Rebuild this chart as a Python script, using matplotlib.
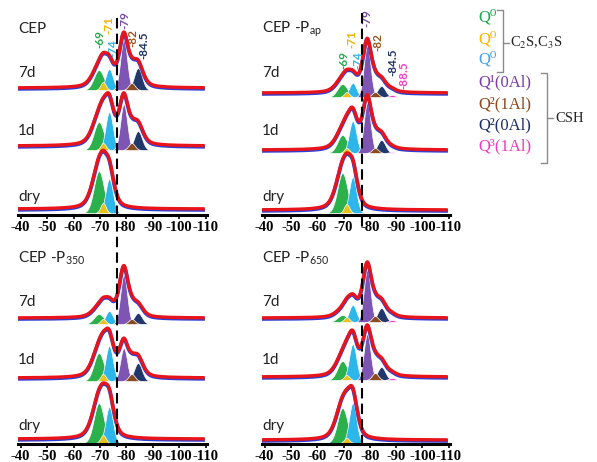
import matplotlib.pyplot as plt
import numpy as np
from matplotlib.lines import Line2D

plt.rcParams['mathtext.fontset'] = 'custom'
plt.rcParams['mathtext.rm'] = 'Lato'

W, H = 597, 462

# deconvolution components: Q0 (x3), Q1(0Al), Q2(1Al), Q2(0Al), Q3(1Al)
comp_colors = ['#2bb04c', '#e7c21c', '#2cb6ea', '#7e55b2', '#8b4b1e', '#22386c', '#e447c6']
comp_centers = [-69.6, -71.2, -73.5, -79.0, -82.0, -84.4, -88.5]
comp_sigma = [1.9, 1.0, 1.4, 1.3, 1.2, 1.5, 1.2]

panel_titles = ['CEP', r'CEP -P$_{\mathrm{ap}}$', r'CEP -P$_{\mathrm{350}}$', r'CEP -P$_{\mathrm{650}}$']
ages = ['7d', '1d', 'dry']

# component heights per age (7d, 1d, dry)
cep_heights = [[20, 8, 21, 50, 7, 22, 0], [28, 7, 38, 46, 7, 19, 0], [42, 10, 34, 0, 0, 0, 0]]
pap_heights = [[13, 5, 14, 51, 5, 11, 2], [18, 5, 32, 50, 5, 13, 1], [40, 9, 36, 0, 0, 0, 0]]
p350_heights = [[10, 5, 13, 49, 5, 11, 0], [28, 7, 35, 33, 7, 18, 0], [40, 8, 36, 0, 0, 0, 0]]
p650_heights = [[7, 5, 17, 52, 6, 14, 2], [19, 5, 36, 46, 7, 13, 2], [35, 5, 40, 0, 0, 0, 0]]
all_heights = [cep_heights, pap_heights, p350_heights, p650_heights]

peak_labels = ['-69', '-71', '-74', '-79', '-82', '-84.5', '-88.5']
label_colors = ['#22a94a', '#f0b400', '#33b5e5', '#7a48a8', '#9a5520', '#1f3163', '#f03cc8']

xticks = [-40, -50, -60, -70, -80, -90, -100, -110]

legend_labels = ['Q\u2070', 'Q\u2070', 'Q\u2070', 'Q\u00b9(0Al)', 'Q\u00b2(1Al)', 'Q\u00b2(0Al)', 'Q\u00b3(1Al)']
legend_colors = ['#1aa64a', '#f5b400', '#4a9fe0', '#7a3ea6', '#8a4a1e', '#1e2f66', '#ea3cc0']

# layout (pixels)
col_left = [18, 262, 18, 262]
col_width = [189, 188, 189, 188]
axis_y = [215, 215, 444, 444]
AX_H = 205
XLIM = (-39, -110.5)
WIDEN = 1.3
ETA = 0.5
fill_base = [[125, 65, 2], [118, 62, 2], [120, 63, 1], [122, 64, 1]]
red_base = [[127, 69, 6], [122, 65, 5], [126, 66, 5], [126, 67, 4]]
age_y = [142, 84, 18]
label_pos = [
    [(-70.0, 176), (-73.4, 190), (-74.9, 167), (-79.6, 195), (-82.6, 177), (-86.8, 170), None],
    [(-70.2, 155), (-73.2, 176), (-75.5, 155), (-78.9, 197), (-83.1, 173), (-88.8, 153), (-93.0, 140)],
]


def gauss(x, c, h, s):
    return h * np.exp(-(x - c) ** 2 / (2 * s ** 2))


def pvoigt(x, c, h, s):
    gam = 1.1774 * s
    return h * (ETA * np.exp(-(x - c) ** 2 / (2 * s ** 2)) + (1 - ETA) / (1 + ((x - c) / gam) ** 2))


def fxy(x, y):
    return x / W, 1 - y / H


fig = plt.figure(figsize=(W / 100, H / 100), dpi=100)
x = np.linspace(-39.5, -109, 700)

for p in range(4):
    l, b = fxy(col_left[p], axis_y[p])
    ax = fig.add_axes([l, b, col_width[p] / W, AX_H / H])
    ax.set_xlim(*XLIM)
    ax.set_ylim(0, AX_H)
    for k in range(3):
        hs = all_heights[p][k]
        fb = fill_base[p][k]
        env = np.full_like(x, red_base[p][k], dtype=float)
        for i in range(7):
            env += pvoigt(x, comp_centers[i], hs[i], comp_sigma[i] * WIDEN)
        for i in [0, 2, 3, 5, 6, 4, 1]:
            if hs[i] <= 0:
                continue
            g = gauss(x, comp_centers[i], hs[i], comp_sigma[i])
            ax.fill_between(x, fb, fb + g, where=g > 0.2, color=comp_colors[i],
                            edgecolor='white', linewidth=0.5, zorder=2)
        ax.plot(x, env - 1.1, color='#2b3fd6', lw=2.7, zorder=3)
        ax.plot(x, env, color='#e8141c', lw=2.4, zorder=4)
        ax.text(0, age_y[k], ages[k], transform=ax.get_yaxis_transform(),
                ha='left', va='center', fontsize=11, family='Lato', color='#222222')
    ax.text(0, 186, panel_titles[p], transform=ax.get_yaxis_transform(),
            ha='left', va='center', fontsize=11, family='Lato', color='#222222')

    if p < 2:
        for i, pos in enumerate(label_pos[p]):
            if pos is None:
                continue
            ax.text(pos[0], pos[1], peak_labels[i], rotation=90, ha='center', va='center',
                    fontsize=8.5, fontweight='bold', family='Lato', color=label_colors[i])

    for side in ['left', 'right', 'top']:
        ax.spines[side].set_visible(False)
    ax.spines['bottom'].set_linewidth(2.2)
    ax.set_yticks([])
    ax.set_xticks(xticks)
    ax.set_xticklabels([str(t) for t in xticks])
    for t in ax.get_xticklabels():
        t.set_fontfamily('Liberation Serif')
        t.set_fontweight('bold')
        t.set_fontsize(10.5)
    ax.tick_params(axis='x', length=3, width=1.2, pad=1.5)
    ax.patch.set_alpha(0)

# dashed reference lines
for xs, segs in [(117, [(18, 447)]), (362, [(13, 228), (263, 447)])]:
    for y0, y1 in segs:
        (fx0, fy0), (fx1, fy1) = fxy(xs, y0), fxy(xs, y1)
        fig.add_artist(Line2D([fx0, fx1], [fy0, fy1], transform=fig.transFigure,
                              color='black', lw=1.5, dashes=(5, 2.5), zorder=10))

# legend on the right
legend_y = [18, 39, 60, 82, 104, 125, 146]
for lab, col, yy in zip(legend_labels, legend_colors, legend_y):
    fig.text(*fxy(478, yy), lab, color=col, fontsize=12,
             family=['Liberation Serif', 'DejaVu Serif'], ha='left', va='center')


def bracket(xv, y0, y1, ym, tx, label):
    pts = [[(xv - 6, y0), (xv, y0), (xv, y1), (xv - 6, y1)], [(xv, ym), (xv + 6, ym)]]
    for seg in pts:
        xs_, ys_ = zip(*[fxy(a, c) for a, c in seg])
        fig.add_artist(Line2D(xs_, ys_, transform=fig.transFigure, color='#8a8a8a', lw=1.0))
    fig.text(*fxy(tx, ym), label, color='#222222', fontsize=10.5, family='Liberation Serif',
             math_fontfamily='stix', ha='left', va='center')


bracket(503, 10, 72, 43, 510, r'C$_2$S,C$_3$S')
bracket(547, 73, 163, 118, 555, 'CSH')

fig.savefig('out.png', dpi=100)
